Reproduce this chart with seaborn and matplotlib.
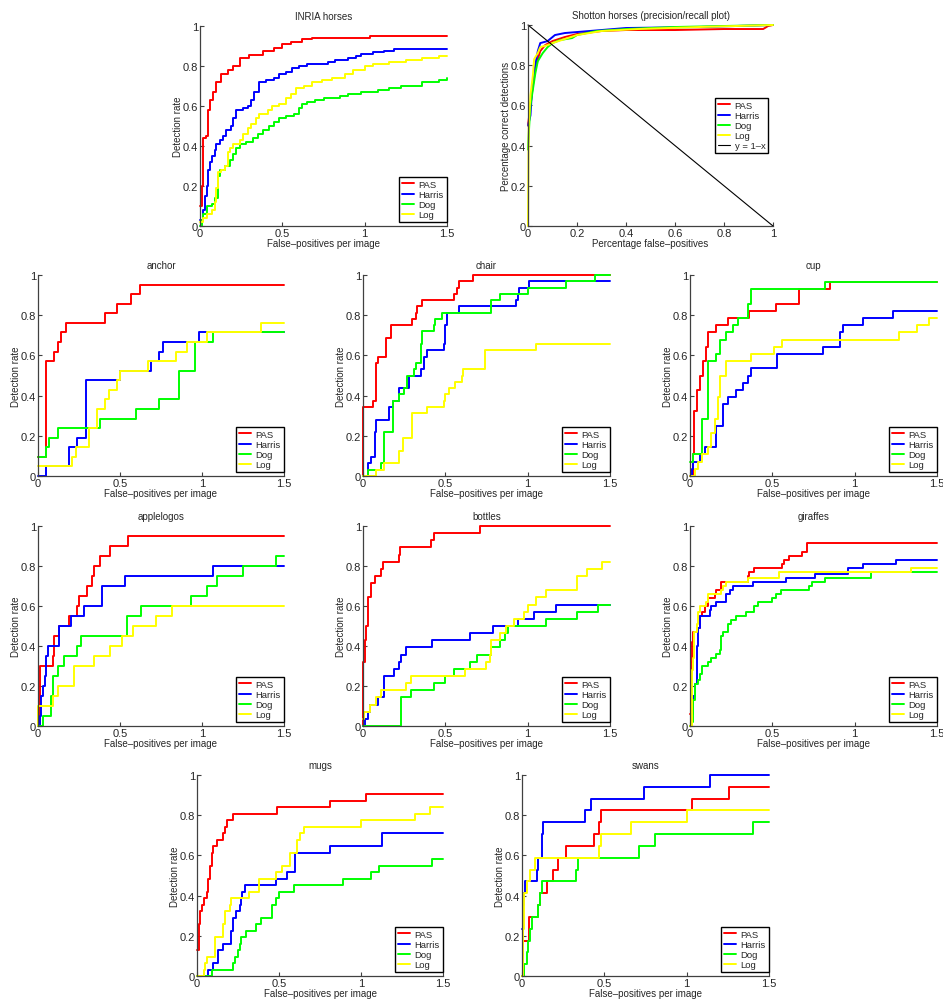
import numpy as np
import pandas as pd
import matplotlib
matplotlib.use('Agg')
import matplotlib.pyplot as plt
import seaborn as sns

methods = ['PAS', 'Harris', 'Dog', 'Log']
colors = ['#ff0000', '#0000ff', '#00ff00', '#ffff00']

# INRIA horses (detection rate vs false-positives per image)
inria_pas = [[0, 0.1], [0.01, 0.2], [0.02, 0.44], [0.035, 0.45], [0.05, 0.58], [0.06, 0.63], [0.08, 0.67],
             [0.1, 0.72], [0.13, 0.76], [0.17, 0.78], [0.2, 0.8], [0.24, 0.84], [0.3, 0.855], [0.38, 0.875],
             [0.45, 0.89], [0.5, 0.91], [0.55, 0.92], [0.62, 0.935], [0.68, 0.94], [1.03, 0.95], [1.5, 0.95]]
inria_harris = [[0, 0.03], [0.02, 0.08], [0.03, 0.15], [0.04, 0.2], [0.05, 0.28], [0.06, 0.32], [0.07, 0.35],
                [0.09, 0.38], [0.1, 0.41], [0.12, 0.43], [0.14, 0.45], [0.16, 0.48], [0.19, 0.5], [0.2, 0.54],
                [0.22, 0.58], [0.26, 0.59], [0.29, 0.6], [0.31, 0.63], [0.33, 0.67], [0.36, 0.72], [0.4, 0.73],
                [0.45, 0.74], [0.48, 0.76], [0.52, 0.77], [0.56, 0.79], [0.6, 0.8], [0.65, 0.81], [0.78, 0.82],
                [0.82, 0.83], [0.9, 0.84], [0.95, 0.85], [0.98, 0.86], [1.05, 0.87], [1.12, 0.875],
                [1.18, 0.885], [1.5, 0.885]]
inria_dog = [[0, 0.0], [0.01, 0.03], [0.02, 0.06], [0.04, 0.1], [0.07, 0.11], [0.09, 0.14], [0.11, 0.25],
             [0.12, 0.28], [0.15, 0.3], [0.18, 0.33], [0.2, 0.36], [0.22, 0.39], [0.24, 0.41], [0.28, 0.42],
             [0.32, 0.44], [0.35, 0.46], [0.38, 0.48], [0.42, 0.5], [0.45, 0.52], [0.48, 0.54], [0.52, 0.55],
             [0.57, 0.56], [0.6, 0.59], [0.62, 0.61], [0.65, 0.62], [0.7, 0.63], [0.75, 0.64], [0.85, 0.65],
             [0.9, 0.66], [0.98, 0.67], [1.08, 0.68], [1.15, 0.69], [1.22, 0.7], [1.35, 0.72], [1.45, 0.73],
             [1.5, 0.74]]
inria_log = [[0, 0.02], [0.02, 0.04], [0.04, 0.06], [0.07, 0.08], [0.09, 0.12], [0.1, 0.19], [0.11, 0.27],
             [0.13, 0.28], [0.15, 0.3], [0.17, 0.37], [0.18, 0.39], [0.2, 0.41], [0.24, 0.43], [0.26, 0.46],
             [0.29, 0.49], [0.31, 0.51], [0.34, 0.54], [0.36, 0.56], [0.41, 0.58], [0.44, 0.6], [0.48, 0.61],
             [0.52, 0.64], [0.55, 0.66], [0.58, 0.69], [0.63, 0.7], [0.68, 0.72], [0.74, 0.73], [0.8, 0.74],
             [0.88, 0.76], [0.93, 0.78], [1.0, 0.8], [1.05, 0.81], [1.15, 0.82], [1.25, 0.83], [1.35, 0.84],
             [1.45, 0.85], [1.5, 0.85]]

# Shotton horses (precision/recall)
shotton_pas = [[0, 0.5], [0.01, 0.6], [0.02, 0.7], [0.03, 0.78], [0.04, 0.83], [0.05, 0.87], [0.07, 0.9],
               [0.1, 0.92], [0.15, 0.94], [0.2, 0.955], [0.3, 0.97], [0.4, 0.975], [0.6, 0.975], [0.8, 0.98],
               [0.96, 0.98], [0.98, 0.995], [1, 1]]
shotton_harris = [[0, 0.5], [0.01, 0.55], [0.015, 0.65], [0.02, 0.72], [0.03, 0.8], [0.04, 0.87],
                  [0.05, 0.91], [0.08, 0.92], [0.1, 0.94], [0.11, 0.95], [0.15, 0.96], [0.25, 0.97],
                  [0.4, 0.985], [0.7, 0.99], [1, 1]]
shotton_dog = [[0, 0.38], [0.005, 0.5], [0.01, 0.6], [0.02, 0.68], [0.03, 0.76], [0.04, 0.82], [0.06, 0.86],
               [0.08, 0.89], [0.1, 0.91], [0.13, 0.925], [0.18, 0.935], [0.2, 0.95], [0.28, 0.97],
               [0.4, 0.98], [0.6, 0.99], [1, 1]]
shotton_log = [[0, 0.0], [0.003, 0.5], [0.01, 0.65], [0.02, 0.75], [0.025, 0.83], [0.04, 0.86], [0.05, 0.89],
               [0.08, 0.9], [0.1, 0.91], [0.15, 0.93], [0.2, 0.95], [0.3, 0.97], [0.45, 0.98], [0.7, 0.99],
               [1, 1]]
diag_line = [[0, 1], [1, 0]]

# ETHZ classes
anchor_pas = [[0, 0.095], [0.05, 0.571], [0.1, 0.619], [0.12, 0.667], [0.14, 0.714], [0.17, 0.762],
              [0.41, 0.81], [0.48, 0.857], [0.57, 0.905], [0.62, 0.952], [1.5, 0.952]]
anchor_harris = [[0, 0], [0.05, 0.048], [0.19, 0.143], [0.24, 0.19], [0.29, 0.476], [0.5, 0.524],
                 [0.69, 0.571], [0.74, 0.619], [0.76, 0.667], [0.98, 0.714], [1.5, 0.714]]
anchor_dog = [[0, 0.095], [0.05, 0.143], [0.07, 0.19], [0.12, 0.238], [0.38, 0.286], [0.6, 0.333],
              [0.74, 0.381], [0.86, 0.524], [0.96, 0.667], [1.07, 0.714], [1.5, 0.714]]
anchor_log = [[0, 0.048], [0.21, 0.095], [0.23, 0.143], [0.31, 0.238], [0.36, 0.333], [0.41, 0.381],
              [0.43, 0.429], [0.48, 0.476], [0.5, 0.524], [0.67, 0.571], [0.84, 0.619], [0.91, 0.667],
              [1.03, 0.714], [1.36, 0.762], [1.5, 0.762]]

chair_pas = [[0, 0], [0, 0.344], [0.06, 0.375], [0.08, 0.5625], [0.09, 0.594], [0.14, 0.6875], [0.17, 0.75],
             [0.3, 0.781], [0.32, 0.8125], [0.33, 0.844], [0.36, 0.875], [0.55, 0.906], [0.57, 0.9375],
             [0.58, 0.969], [0.67, 1.0], [1.5, 1.0]]
chair_harris = [[0, 0], [0.03, 0.0625], [0.05, 0.094], [0.07, 0.219], [0.08, 0.281], [0.16, 0.344],
                [0.18, 0.375], [0.22, 0.438], [0.28, 0.5], [0.35, 0.531], [0.37, 0.594], [0.39, 0.625],
                [0.49, 0.656], [0.5, 0.75], [0.51, 0.8125], [0.58, 0.844], [0.93, 0.875], [0.94, 0.906],
                [0.95, 0.9375], [1.01, 0.969], [1.5, 0.969]]
chair_dog = [[0, 0], [0.03, 0.031], [0.11, 0.0625], [0.13, 0.219], [0.18, 0.375], [0.22, 0.406],
             [0.25, 0.438], [0.27, 0.5], [0.31, 0.531], [0.32, 0.5625], [0.35, 0.656], [0.36, 0.719],
             [0.43, 0.75], [0.44, 0.781], [0.48, 0.8125], [0.78, 0.875], [0.83, 0.906], [1.0, 0.9375],
             [1.23, 0.969], [1.41, 1.0], [1.5, 1.0]]
chair_log = [[0, 0], [0.08, 0.031], [0.13, 0.0625], [0.22, 0.125], [0.24, 0.1875], [0.3, 0.3125],
             [0.39, 0.344], [0.49, 0.375], [0.5, 0.406], [0.52, 0.438], [0.56, 0.469], [0.6, 0.5],
             [0.61, 0.531], [0.74, 0.625], [1.05, 0.656], [1.5, 0.656]]

cup_pas = [[0, 0], [0.02, 0.107], [0.025, 0.321], [0.04, 0.429], [0.06, 0.5], [0.08, 0.571], [0.1, 0.643],
           [0.11, 0.714], [0.16, 0.75], [0.23, 0.786], [0.36, 0.821], [0.52, 0.857], [0.66, 0.929],
           [0.85, 0.964], [1.5, 0.964]]
cup_harris = [[0, 0], [0.01, 0.036], [0.02, 0.071], [0.06, 0.107], [0.09, 0.143], [0.16, 0.25], [0.2, 0.357],
              [0.23, 0.393], [0.28, 0.429], [0.32, 0.464], [0.35, 0.5], [0.37, 0.536], [0.53, 0.607],
              [0.81, 0.643], [0.91, 0.714], [0.93, 0.75], [1.05, 0.786], [1.23, 0.821], [1.5, 0.821]]
cup_dog = [[0, 0.071], [0.02, 0.107], [0.07, 0.286], [0.11, 0.571], [0.16, 0.607], [0.18, 0.679],
           [0.22, 0.714], [0.26, 0.75], [0.29, 0.786], [0.35, 0.857], [0.37, 0.929], [0.82, 0.964],
           [1.5, 0.964]]
cup_log = [[0, 0], [0.03, 0.036], [0.05, 0.071], [0.07, 0.107], [0.11, 0.143], [0.13, 0.214], [0.15, 0.286],
           [0.17, 0.393], [0.18, 0.5], [0.22, 0.571], [0.37, 0.607], [0.51, 0.643], [0.56, 0.679],
           [1.27, 0.714], [1.38, 0.75], [1.45, 0.786], [1.5, 0.786]]

apple_pas = [[0, 0], [0.01, 0.3], [0.09, 0.35], [0.1, 0.45], [0.13, 0.5], [0.19, 0.55], [0.24, 0.6],
             [0.25, 0.65], [0.3, 0.7], [0.33, 0.75], [0.34, 0.8], [0.38, 0.85], [0.44, 0.9], [0.55, 0.95],
             [1.5, 0.95]]
apple_harris = [[0, 0], [0.01, 0.05], [0.02, 0.15], [0.03, 0.2], [0.04, 0.25], [0.05, 0.35], [0.06, 0.4],
                [0.13, 0.5], [0.2, 0.55], [0.28, 0.6], [0.39, 0.7], [0.53, 0.75], [1.07, 0.8], [1.5, 0.8]]
apple_dog = [[0, 0], [0.03, 0.05], [0.08, 0.15], [0.09, 0.25], [0.12, 0.3], [0.16, 0.35], [0.24, 0.4],
             [0.26, 0.45], [0.54, 0.55], [0.63, 0.6], [0.93, 0.65], [1.03, 0.7], [1.09, 0.75], [1.25, 0.8],
             [1.45, 0.85], [1.5, 0.85]]
apple_log = [[0, 0], [0, 0.1], [0.09, 0.15], [0.12, 0.2], [0.22, 0.3], [0.34, 0.35], [0.44, 0.4], [0.51, 0.45],
             [0.58, 0.5], [0.72, 0.55], [0.82, 0.6], [1.5, 0.6]]

bottles_pas = [[0, 0], [0, 0.321], [0.01, 0.429], [0.02, 0.5], [0.03, 0.643], [0.05, 0.714], [0.07, 0.75],
               [0.11, 0.786], [0.12, 0.821], [0.22, 0.857], [0.225, 0.893], [0.41, 0.929], [0.43, 0.964],
               [0.71, 1.0], [1.5, 1.0]]
bottles_harris = [[0, 0], [0.01, 0.036], [0.03, 0.071], [0.04, 0.107], [0.09, 0.143], [0.13, 0.25],
                  [0.19, 0.286], [0.22, 0.321], [0.23, 0.357], [0.26, 0.393], [0.42, 0.429], [0.65, 0.464],
                  [0.79, 0.5], [0.94, 0.536], [1.04, 0.571], [1.17, 0.607], [1.5, 0.607]]
bottles_dog = [[0, 0], [0.23, 0.143], [0.29, 0.179], [0.43, 0.214], [0.5, 0.25], [0.55, 0.286], [0.65, 0.321],
               [0.69, 0.357], [0.78, 0.393], [0.83, 0.429], [0.86, 0.464], [0.88, 0.5], [1.11, 0.536],
               [1.3, 0.571], [1.43, 0.607], [1.5, 0.607]]
bottles_log = [[0, 0.036], [0.005, 0.071], [0.04, 0.107], [0.08, 0.143], [0.11, 0.179], [0.26, 0.214],
               [0.29, 0.25], [0.62, 0.286], [0.75, 0.321], [0.77, 0.357], [0.78, 0.429], [0.83, 0.464],
               [0.87, 0.5], [0.92, 0.536], [0.98, 0.571], [1.0, 0.607], [1.05, 0.643], [1.11, 0.679],
               [1.3, 0.75], [1.36, 0.786], [1.45, 0.821], [1.5, 0.821]]

giraffe_pas = [[0, 0.06], [0.005, 0.32], [0.01, 0.42], [0.02, 0.47], [0.05, 0.49], [0.06, 0.55], [0.07, 0.57],
               [0.09, 0.6], [0.11, 0.64], [0.15, 0.66], [0.16, 0.68], [0.19, 0.72], [0.35, 0.75], [0.36, 0.77],
               [0.39, 0.79], [0.56, 0.81], [0.57, 0.83], [0.6, 0.85], [0.68, 0.87], [0.71, 0.915],
               [1.5, 0.915]]
giraffe_harris = [[0, 0], [0.01, 0.06], [0.02, 0.15], [0.03, 0.21], [0.04, 0.4], [0.05, 0.49], [0.06, 0.55],
                  [0.12, 0.58], [0.13, 0.6], [0.16, 0.62], [0.22, 0.66], [0.24, 0.68], [0.26, 0.7],
                  [0.38, 0.72], [0.58, 0.74], [0.76, 0.76], [0.96, 0.79], [1.05, 0.81], [1.25, 0.83],
                  [1.5, 0.83]]
giraffe_dog = [[0, 0], [0.01, 0.02], [0.02, 0.13], [0.03, 0.21], [0.05, 0.23], [0.06, 0.26], [0.07, 0.3],
               [0.11, 0.32], [0.13, 0.34], [0.16, 0.36], [0.18, 0.38], [0.19, 0.45], [0.2, 0.47], [0.23, 0.51],
               [0.25, 0.53], [0.28, 0.55], [0.34, 0.57], [0.39, 0.6], [0.41, 0.62], [0.5, 0.64], [0.52, 0.66],
               [0.55, 0.68], [0.72, 0.7], [0.74, 0.72], [0.82, 0.74], [1.1, 0.77], [1.5, 0.77]]
giraffe_log = [[0, 0], [0.01, 0.28], [0.02, 0.34], [0.025, 0.47], [0.04, 0.51], [0.05, 0.57], [0.06, 0.6],
               [0.1, 0.62], [0.11, 0.66], [0.19, 0.68], [0.2, 0.7], [0.22, 0.72], [0.35, 0.74], [0.54, 0.77],
               [1.34, 0.79], [1.5, 0.79]]

mugs_pas = [[0, 0.129], [0.01, 0.161], [0.015, 0.258], [0.02, 0.323], [0.03, 0.355], [0.04, 0.387],
            [0.06, 0.419], [0.065, 0.452], [0.07, 0.484], [0.08, 0.548], [0.09, 0.613], [0.1, 0.645],
            [0.12, 0.677], [0.16, 0.71], [0.17, 0.742], [0.18, 0.774], [0.22, 0.806], [0.49, 0.839],
            [0.81, 0.871], [1.03, 0.903], [1.5, 0.903]]
mugs_harris = [[0, 0], [0.07, 0.032], [0.1, 0.065], [0.13, 0.129], [0.16, 0.161], [0.21, 0.226], [0.22, 0.29],
               [0.24, 0.323], [0.26, 0.355], [0.27, 0.387], [0.275, 0.419], [0.29, 0.452], [0.48, 0.484],
               [0.55, 0.516], [0.6, 0.613], [0.81, 0.645], [1.13, 0.71], [1.5, 0.71]]
mugs_dog = [[0, 0], [0.09, 0.032], [0.22, 0.065], [0.23, 0.097], [0.25, 0.129], [0.26, 0.161], [0.27, 0.194],
            [0.3, 0.226], [0.36, 0.258], [0.39, 0.29], [0.46, 0.355], [0.48, 0.387], [0.5, 0.419],
            [0.59, 0.452], [0.89, 0.484], [1.06, 0.516], [1.11, 0.548], [1.43, 0.581], [1.5, 0.581]]
mugs_log = [[0, 0], [0.04, 0.032], [0.05, 0.065], [0.06, 0.097], [0.11, 0.194], [0.16, 0.258], [0.17, 0.323],
            [0.2, 0.355], [0.205, 0.387], [0.32, 0.419], [0.38, 0.484], [0.48, 0.516], [0.52, 0.548],
            [0.57, 0.613], [0.61, 0.677], [0.63, 0.71], [0.65, 0.742], [1.0, 0.774], [1.33, 0.806],
            [1.42, 0.839], [1.5, 0.839]]

swans_pas = [[0, 0], [0.005, 0.176], [0.04, 0.294], [0.1, 0.353], [0.11, 0.412], [0.15, 0.471], [0.19, 0.529],
             [0.22, 0.588], [0.27, 0.647], [0.44, 0.706], [0.47, 0.765], [0.48, 0.824], [1.03, 0.882],
             [1.26, 0.941], [1.5, 0.941]]
swans_harris = [[0, 0.235], [0.005, 0.353], [0.01, 0.412], [0.02, 0.471], [0.09, 0.529], [0.1, 0.588],
                [0.12, 0.706], [0.13, 0.765], [0.38, 0.824], [0.42, 0.882], [0.74, 0.941], [1.14, 1.0],
                [1.5, 1.0]]
swans_dog = [[0, 0], [0.01, 0.059], [0.03, 0.118], [0.035, 0.176], [0.05, 0.235], [0.06, 0.294], [0.1, 0.353],
             [0.11, 0.412], [0.12, 0.471], [0.33, 0.529], [0.34, 0.588], [0.71, 0.647], [0.81, 0.706],
             [1.4, 0.765], [1.5, 0.765]]
swans_log = [[0, 0], [0.005, 0.235], [0.01, 0.412], [0.03, 0.471], [0.05, 0.529], [0.08, 0.588], [0.47, 0.647],
             [0.48, 0.706], [0.66, 0.765], [1.0, 0.824], [1.5, 0.824]]

# panel title, curves, axes box in pixels (left, top, right, bottom)
panels = [
    ('INRIA horses', [inria_pas, inria_harris, inria_dog, inria_log], (200, 27, 447, 227)),
    ('anchor', [anchor_pas, anchor_harris, anchor_dog, anchor_log], (38, 276, 284, 477)),
    ('chair', [chair_pas, chair_harris, chair_dog, chair_log], (363, 276, 610, 477)),
    ('cup', [cup_pas, cup_harris, cup_dog, cup_log], (690, 276, 937, 477)),
    ('applelogos', [apple_pas, apple_harris, apple_dog, apple_log], (38, 527, 284, 727)),
    ('bottles', [bottles_pas, bottles_harris, bottles_dog, bottles_log], (363, 527, 610, 727)),
    ('giraffes', [giraffe_pas, giraffe_harris, giraffe_dog, giraffe_log], (690, 527, 937, 727)),
    ('mugs', [mugs_pas, mugs_harris, mugs_dog, mugs_log], (197, 776, 443, 977)),
    ('swans', [swans_pas, swans_harris, swans_dog, swans_log], (522, 776, 769, 977)),
]
shotton_box = (528, 26, 773, 227)

W, H = 943, 1003
sns.set_style('ticks')
plt.rcParams['font.family'] = ['Liberation Sans', 'DejaVu Sans']
plt.rcParams['axes.unicode_minus'] = False
spine_col = '#404040'


def make_ax(fig, box):
    l, t, r, b = box
    ax = fig.add_axes([l / W, (H - b) / H, (r - l) / W, (b - t) / H])
    sns.despine(ax=ax)
    for s in ['left', 'bottom']:
        ax.spines[s].set_color(spine_col)
        ax.spines[s].set_linewidth(0.9)
    ax.tick_params(direction='in', length=3, width=0.8, color=spine_col, labelsize=8, pad=1.5)
    ax.set_ylim(0, 1)
    yt = np.arange(0, 1.01, 0.2)
    ax.set_yticks(yt)
    ax.set_yticklabels(['{:g}'.format(round(v, 1)) for v in yt])
    return ax


def add_curve(ax, pts, col, name, steps=True, lw=1.4):
    df = pd.DataFrame(pts, columns=['x', 'y'])
    sns.lineplot(data=df, x='x', y='y', ax=ax, color=col, lw=lw, label=name, estimator=None,
                 sort=False, drawstyle='steps-post' if steps else 'default', clip_on=False, legend=False)


def add_legend(ax, loc, anchor):
    leg = ax.legend(handles=ax.get_lines(), loc=loc, bbox_to_anchor=anchor, fontsize=6.8, frameon=True,
                    fancybox=False, edgecolor='black', framealpha=1, borderpad=0.3, labelspacing=0.12,
                    handlelength=1.3, handletextpad=0.45, borderaxespad=0.0)
    leg.get_frame().set_linewidth(1.0)


fig = plt.figure(figsize=(W / 100, H / 100), dpi=100)

for title, curves, box in panels:
    ax = make_ax(fig, box)
    for name, col, pts in zip(methods, colors, curves):
        add_curve(ax, pts, col, name)
    ax.set_xlim(0, 1.5)
    ax.set_xticks([0, 0.5, 1, 1.5])
    ax.set_xticklabels(['0', '0.5', '1', '1.5'])
    ax.set_title(title, fontsize=7, pad=5)
    ax.set_xlabel('False\u2013positives per image', fontsize=7, labelpad=0)
    ax.set_ylabel('Detection rate', fontsize=7, labelpad=0)
    add_legend(ax, 'lower right', (0.998, 0.02))

# Shotton horses precision/recall panel
ax = make_ax(fig, shotton_box)
for name, col, pts in zip(methods, colors, [shotton_pas, shotton_harris, shotton_dog, shotton_log]):
    add_curve(ax, pts, col, name, steps=False)
add_curve(ax, diag_line, 'black', 'y = 1\u2013x', steps=False, lw=0.8)
ax.set_xlim(0, 1)
xt = np.arange(0, 1.01, 0.2)
ax.set_xticks(xt)
ax.set_xticklabels(['{:g}'.format(round(v, 1)) for v in xt])
ax.set_title('Shotton horses (precision/recall plot)', fontsize=7, pad=5)
ax.set_xlabel('Percentage false\u2013positives', fontsize=7, labelpad=0)
ax.set_ylabel('Percentage correct detections', fontsize=7, labelpad=0)
add_legend(ax, 'center right', (0.98, 0.5))

fig.savefig('out.png', dpi=100)
